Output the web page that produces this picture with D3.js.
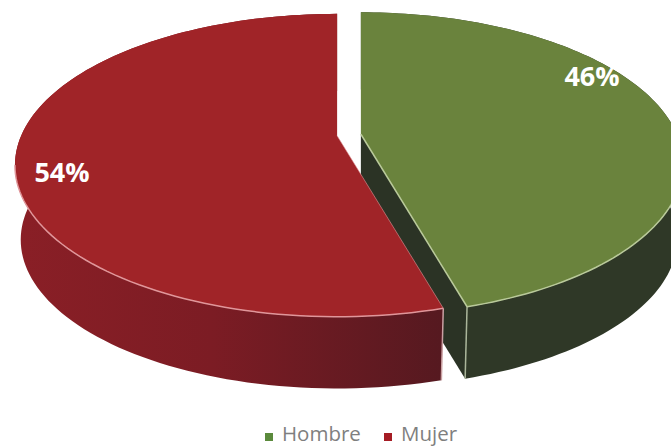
<!DOCTYPE html>
<html>
<head>
<meta charset="utf-8">
<script src="https://cdnjs.cloudflare.com/ajax/libs/d3/7.8.5/d3.min.js"></script>
<style>
body { margin: 0; background: #fff; }
svg { display: block; }
</style>
</head>
<body>
<div id="chart"></div>
<script>
const width = 671;
const height = 447;

const categories = ["Hombre", "Mujer"];
const percents = [45.6, 54.4];
const percentLabels = ["46%", "54%"];

// Colors
const topColors = ["#6a833d", "#a02428"];
const rimColors = ["#b9c99a", "#e0969a"];
const labelSpots = [[592, 86], [62, 182]];
const legendColors = ["#5b8a3c", "#a51c24"];

// Pie geometry
const cx = 349, cy = 135;
const radius = 316;
const tilt = 0.461;      // vertical squash of the disc
const persp = 0.195;     // how much closer things get bigger
const depth = 75;
const explode = 12;

const svg = d3.select("#chart").append("svg")
    .attr("width", width)
    .attr("height", height);

const defs = svg.append("defs");

function wallGradient(id, stops) {
    const g = defs.append("linearGradient").attr("id", id)
        .attr("gradientUnits", "userSpaceOnUse")
        .attr("x1", 14).attr("x2", 671).attr("y1", 0).attr("y2", 0);
    stops.forEach(function (s) {
        g.append("stop").attr("offset", s[0]).attr("stop-color", s[1]);
    });
}
wallGradient("wall0", [[0, "#2f3827"], [1, "#2f3827"]]);
wallGradient("wall1", [[0, "#8a1f26"], [0.3, "#7c1c24"], [0.65, "#561920"]]);

// angle is clockwise from 12 o'clock, r is 0..1, z is 0 on top and 1 at the bottom
function project(slice, r, angle, z) {
    const mid = (slice.startAngle + slice.endAngle) / 2;
    const ox = cx + explode * Math.sin(mid);
    const oy = cy - explode * Math.cos(mid) * tilt;
    const px = r * Math.sin(angle);
    const py = -r * Math.cos(angle);
    const s = (1 / (1 - persp * py)) * (1 - 0.018 * z);
    return [ox + radius * px * s, oy + radius * tilt * py * s + depth * z];
}

const line = d3.line();

function arcPoints(slice, z) {
    const t = d3.scaleLinear().domain([0, 120]).range([slice.startAngle, slice.endAngle]);
    return d3.range(0, 121).map(function (i) {
        return project(slice, 1, t(i), z);
    });
}

const slices = d3.pie().sort(null)(percents);

// Draw green first so the red slice sits in front of its cut wall
slices.forEach(function (slice, i) {
    const g = svg.append("g");
    const top = arcPoints(slice, 0);
    const bottom = arcPoints(slice, 1);
    const apexTop = project(slice, 0, 0, 0);
    const apexBottom = project(slice, 0, 0, 1);

    if (i === 0) {
        // cut wall facing the gap
        const v = top[top.length - 1], w = bottom[bottom.length - 1];
        g.append("path")
            .attr("d", line([apexTop, v, w, apexBottom]) + "Z")
            .attr("fill", "#2b3325");
    }

    // outer wall
    g.append("path")
        .attr("d", line(top.concat(bottom.slice().reverse())) + "Z")
        .attr("fill", "url(#wall" + i + ")");

    // front corner
    const corner = i === 0 ? 120 : 0;
    g.append("line")
        .attr("x1", top[corner][0]).attr("y1", top[corner][1])
        .attr("x2", bottom[corner][0]).attr("y2", bottom[corner][1])
        .attr("stroke", i === 0 ? "#aab59a" : "#c9a0a2")
        .attr("stroke-width", 1.5);

    // top face
    g.append("path")
        .attr("d", line([apexTop].concat(top)) + "Z")
        .attr("fill", topColors[i]);

    // light rim along the front of the disc
    const rim = top.filter(function (p) { return p[1] > 165; });
    g.append("path")
        .attr("d", line(rim))
        .attr("fill", "none")
        .attr("stroke", rimColors[i])
        .attr("stroke-width", 1.5);

    if (i === 0) {
        g.append("path")
            .attr("d", line([apexTop, top[top.length - 1]]))
            .attr("fill", "none")
            .attr("stroke", rimColors[i])
            .attr("stroke-width", 1.5);
    } else {
        g.append("path")
            .attr("d", line([apexTop, top[0]]))
            .attr("fill", "none")
            .attr("stroke", rimColors[i])
            .attr("stroke-opacity", 0.6)
            .attr("stroke-width", 1);
    }
});

// Percent labels
svg.selectAll("text.pct")
    .data(percentLabels)
    .enter()
    .append("text")
    .attr("class", "pct")
    .attr("x", function (d, i) { return labelSpots[i][0]; })
    .attr("y", function (d, i) { return labelSpots[i][1]; })
    .attr("text-anchor", "middle")
    .attr("font-family", "'Open Sans', sans-serif")
    .attr("font-weight", "bold")
    .attr("font-size", 27)
    .attr("fill", "#fff")
    .text(function (d) { return d; });

// Legend
const legendX = d3.scaleOrdinal().domain(categories).range([265, 384]);
const legend = svg.selectAll("g.legend")
    .data(categories)
    .enter()
    .append("g")
    .attr("class", "legend")
    .attr("transform", function (d) { return "translate(" + legendX(d) + ",0)"; });

legend.append("rect")
    .attr("y", 433)
    .attr("width", 8)
    .attr("height", 8)
    .attr("fill", function (d, i) { return legendColors[i]; });

legend.append("text")
    .attr("x", 17)
    .attr("y", 441)
    .attr("font-family", "'Open Sans', sans-serif")
    .attr("font-size", 20.5)
    .attr("fill", "#7f7f7f")
    .text(function (d) { return d; });
</script>
</body>
</html>
